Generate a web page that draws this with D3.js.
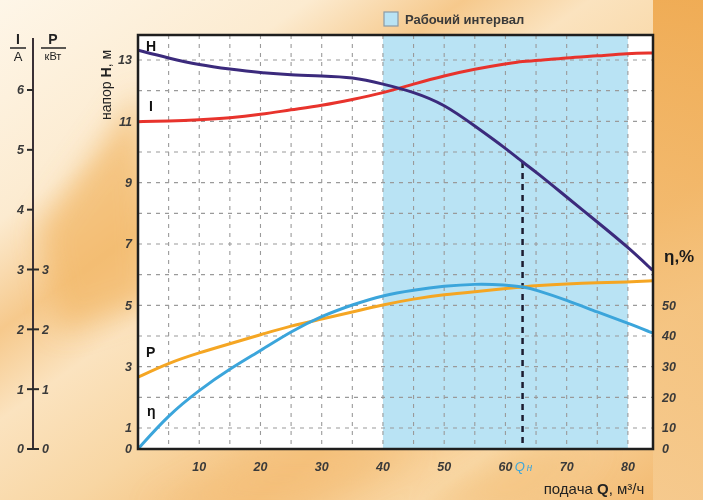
<!DOCTYPE html>
<html><head><meta charset="utf-8">
<script src="https://cdn.jsdelivr.net/npm/d3@7"></script>
<style>body{margin:0;background:#fbe6c4;} svg{display:block;font-family:"Liberation Sans",Arial,sans-serif;}</style>
</head><body>
<svg id="c" width="703" height="500"></svg>
<script>
// ---- data ----
const flowQ   = [0, 5, 10, 15, 20, 25, 30, 35, 40, 45, 50, 55, 60, 63, 65, 70, 75, 80, 84];
const headH   = [13.32, 13.06, 12.84, 12.7, 12.58, 12.51, 12.48, 12.44, 12.22, 11.96, 11.56, 10.85, 10.13, 9.64, 9.35, 8.53, 7.72, 6.9, 6.15];
const currentI= [5.47, 5.48, 5.50, 5.53, 5.59, 5.67, 5.74, 5.84, 5.95, 6.10, 6.24, 6.35, 6.44, 6.48, 6.49, 6.54, 6.57, 6.61, 6.62];
const powerP  = [1.20, 1.44, 1.61, 1.76, 1.91, 2.06, 2.17, 2.29, 2.41, 2.51, 2.58, 2.63, 2.68, 2.71, 2.73, 2.76, 2.78, 2.79, 2.81];
const effEta  = [0, 14.3, 22.4, 29.3, 35.2, 41.5, 46.5, 50.2, 53.3, 55.0, 56.3, 57.0, 56.7, 56.0, 55.0, 51.7, 47.8, 44.2, 41.0];
const xTicks  = [10, 20, 30, 40, 50, 60, 70, 80];
const hTicks  = [0, 1, 3, 5, 7, 9, 11, 13];
const etaTicks= [0, 10, 20, 30, 40, 50];
const iTicks  = [0, 1, 2, 3, 4, 5, 6];
const pTicks  = [0, 1, 2, 3];
const workRange = [40, 80];
const nominalQ = 62.8;
const legendText = "Рабочий интервал";

// ---- scales ----
const svg = d3.select("#c");
const L = 138, R = 653, T = 35, B = 449;
const x = d3.scaleLinear().domain([0, 84.1]).range([L, R]);
const yH = d3.scaleLinear().domain([0, 1, 13.815]).range([B, 428, T]);
const yEta = d3.scaleLinear().domain([0, 10, 138.15]).range([B, 428, T]);
const yI = d3.scaleLinear().domain([0, 6]).range([B, 90]);

// ---- background ----
const defs = svg.append("defs");
defs.append("filter").attr("id","blur").attr("x","-50%").attr("y","-50%").attr("width","200%").attr("height","200%")
  .append("feGaussianBlur").attr("stdDeviation",14);
const g1 = defs.append("linearGradient").attr("id","bg").attr("x1",0).attr("y1",0).attr("x2",1).attr("y2",1);
[[0,"#fef6e8"],[0.22,"#fcebd0"],[0.33,"#f6c98c"],[0.42,"#fbe3bf"],[0.55,"#f8d6a3"],[0.68,"#f5c07a"],[0.8,"#f9d8a6"],[1,"#f2b466"]]
  .forEach(s=>g1.append("stop").attr("offset",s[0]).attr("stop-color",s[1]));
svg.append("rect").attr("width",703).attr("height",500).attr("fill","url(#bg)");
const g2 = defs.append("linearGradient").attr("id","tr").attr("x1",0).attr("y1",0).attr("x2",0).attr("y2",1);
[[0,"#eea446"],[0.5,"#f3bc72"],[1,"#f6cc92"]].forEach(s=>g2.append("stop").attr("offset",s[0]).attr("stop-color",s[1]));
svg.append("rect").attr("x",R).attr("y",0).attr("width",703-R).attr("height",500).attr("fill","url(#tr)").attr("opacity",0.85);
const blobs = svg.append("g").attr("filter","url(#blur)");
blobs.append("path").attr("d","M40,230 L140,90 L150,300 L60,330Z").attr("fill","#f2b868").attr("opacity",0.7);
blobs.append("path").attr("d","M150,510 L260,449 L420,449 L300,510Z").attr("fill","#f4c07a").attr("opacity",0.6);
blobs.append("path").attr("d","M420,510 L520,449 L600,449 L520,510Z").attr("fill","#f4bf78").attr("opacity",0.5);

// ---- plot area ----
svg.append("rect").attr("x",L).attr("y",T).attr("width",R-L).attr("height",B-T).attr("fill","#ffffff");
svg.append("rect").attr("x",x(workRange[0])).attr("y",T).attr("width",x(workRange[1])-x(workRange[0])).attr("height",B-T).attr("fill","#b9e3f4");

// grid
const grid = svg.append("g").attr("stroke","#9a9a9a").attr("stroke-width",1.1).attr("stroke-dasharray","4,5");
d3.range(5, 84, 5).forEach(v=>grid.append("line").attr("x1",x(v)).attr("x2",x(v)).attr("y1",T).attr("y2",B));
d3.range(1, 14).forEach(v=>grid.append("line").attr("x1",L).attr("x2",R).attr("y1",yH(v)).attr("y2",yH(v)));

// clip
defs.append("clipPath").attr("id","clip").append("rect").attr("x",L).attr("y",T).attr("width",R-L).attr("height",B-T);
const plot = svg.append("g").attr("clip-path","url(#clip)");

const mk = (arr, sc) => d3.line().x((d,i)=>x(flowQ[i])).y(d=>sc(d)).curve(d3.curveBasis)(arr);

// nominal dashed line
const hNom = d3.interpolateNumber(headH[12], headH[13])((nominalQ-60)/3);
plot.append("line").attr("x1",x(nominalQ)).attr("x2",x(nominalQ)).attr("y1",yH(hNom)).attr("y2",B)
  .attr("stroke","#1c1c30").attr("stroke-width",2.5).attr("stroke-dasharray","6,5");

plot.append("path").attr("d",mk(currentI,yI)).attr("fill","none").attr("stroke","#e8332c").attr("stroke-width",3);
plot.append("path").attr("d",mk(powerP,yI)).attr("fill","none").attr("stroke","#f5a623").attr("stroke-width",3);
plot.append("path").attr("d",mk(effEta,yEta)).attr("fill","none").attr("stroke","#3ba5db").attr("stroke-width",3);
plot.append("path").attr("d",mk(headH,yH)).attr("fill","none").attr("stroke","#3b2a7c").attr("stroke-width",3);

// border
svg.append("rect").attr("x",L).attr("y",T).attr("width",R-L).attr("height",B-T).attr("fill","none").attr("stroke","#1e1e1e").attr("stroke-width",2.5);

// curve labels
const lab = svg.append("g").attr("font-weight","bold").attr("font-size",14).attr("fill","#111");
lab.append("text").attr("x",146).attr("y",51).text("H");
lab.append("text").attr("x",149).attr("y",111).text("I");
lab.append("text").attr("x",146).attr("y",357).text("P");
lab.append("text").attr("x",147).attr("y",416).text("η");

// axis tick labels
const tl = svg.append("g").attr("font-style","italic").attr("font-weight","bold").attr("font-size",12.5).attr("fill","#3a3a3a");
hTicks.forEach(v=>tl.append("text").attr("x",132).attr("y",yH(v)).attr("dy","0.35em").attr("text-anchor","end").text(v));
etaTicks.forEach(v=>tl.append("text").attr("x",662).attr("y",yEta(v)).attr("dy","0.35em").text(v));
xTicks.forEach(v=>tl.append("text").attr("x",x(v)).attr("y",471).attr("text-anchor","middle").text(v));

// Qн label
const qn = svg.append("text").attr("x",x(nominalQ)+1).attr("y",471).attr("text-anchor","middle").attr("fill","#3ba5db").attr("font-style","italic").attr("font-size",13);
qn.append("tspan").text("Q");
qn.append("tspan").attr("font-size",10).attr("dx",2).text("н");

// axis titles
const yt = svg.append("text").attr("transform","translate(111,85) rotate(-90)").attr("text-anchor","middle").attr("font-size",14).attr("fill","#222");
yt.append("tspan").text("напор ");
yt.append("tspan").attr("font-weight","bold").text("H");
yt.append("tspan").text(", м");

const xt = svg.append("text").attr("x",594).attr("y",494).attr("text-anchor","middle").attr("font-size",15).attr("fill","#222");
xt.append("tspan").text("подача ");
xt.append("tspan").attr("font-weight","bold").text("Q");
xt.append("tspan").text(", м³/ч");

svg.append("text").attr("x",664).attr("y",262).attr("font-size",17).attr("font-weight","bold").attr("fill","#1a1a1a").text("η,%");

// legend
svg.append("rect").attr("x",384).attr("y",12).attr("width",14).attr("height",14).attr("fill","#b9e3f4").attr("stroke","#8a9aa6").attr("stroke-width",1.2);
svg.append("text").attr("x",405).attr("y",24).attr("font-size",13).attr("font-weight","bold").attr("fill","#3a3a3a").text(legendText);

// left ruler (I, P)
const rx = 33;
const rl = svg.append("g");
rl.append("line").attr("x1",rx).attr("x2",rx).attr("y1",38).attr("y2",B).attr("stroke","#3a3035").attr("stroke-width",2);
iTicks.forEach(v=>{
  rl.append("line").attr("x1",rx-6).attr("x2",rx).attr("y1",yI(v)).attr("y2",yI(v)).attr("stroke","#2a2a2a").attr("stroke-width",2);
  rl.append("text").attr("x",24).attr("y",yI(v)).attr("dy","0.35em").attr("text-anchor","end").attr("font-style","italic").attr("font-weight","bold").attr("font-size",12.5).attr("fill","#3a3a3a").text(v);
});
pTicks.forEach(v=>{
  rl.append("line").attr("x1",rx).attr("x2",rx+6).attr("y1",yI(v)).attr("y2",yI(v)).attr("stroke","#2a2a2a").attr("stroke-width",2);
  rl.append("text").attr("x",42).attr("y",yI(v)).attr("dy","0.35em").attr("font-style","italic").attr("font-weight","bold").attr("font-size",12.5).attr("fill","#3a3a3a").text(v);
});
// headers
rl.append("text").attr("x",18).attr("y",44).attr("text-anchor","middle").attr("font-weight","bold").attr("font-size",14).attr("fill","#222").text("I");
rl.append("line").attr("x1",10).attr("x2",26).attr("y1",48).attr("y2",48).attr("stroke","#222").attr("stroke-width",1.5);
rl.append("text").attr("x",18).attr("y",61).attr("text-anchor","middle").attr("font-size",13).attr("fill","#222").text("A");
rl.append("text").attr("x",53).attr("y",44).attr("text-anchor","middle").attr("font-weight","bold").attr("font-size",14).attr("fill","#222").text("P");
rl.append("line").attr("x1",41).attr("x2",66).attr("y1",48).attr("y2",48).attr("stroke","#222").attr("stroke-width",1.5);
rl.append("text").attr("x",53).attr("y",60).attr("text-anchor","middle").attr("font-size",11).attr("fill","#222").text("кВт");
</script>
</body></html>
